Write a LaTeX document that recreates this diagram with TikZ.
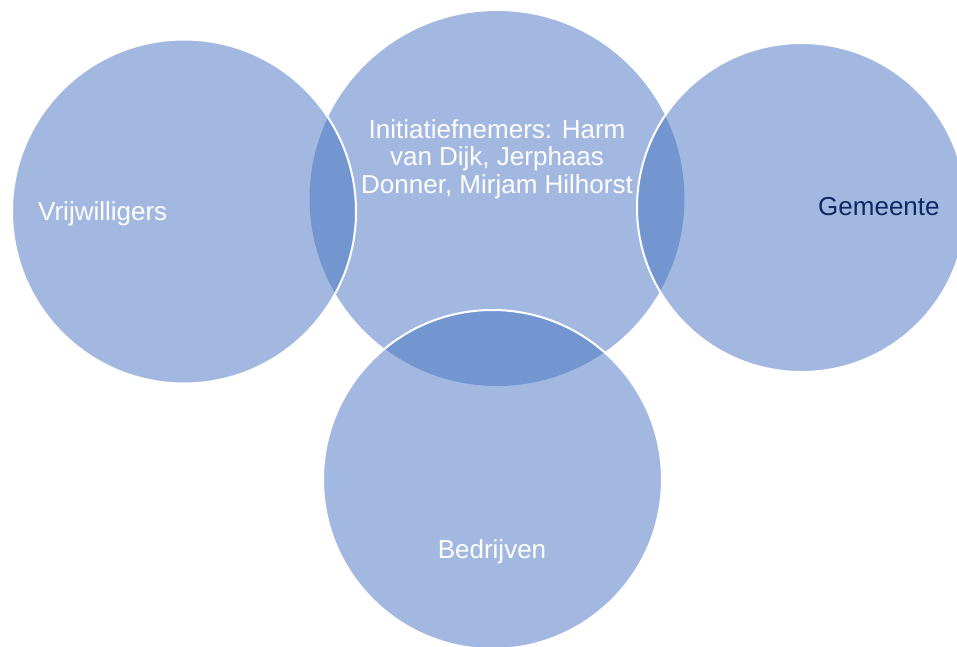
\documentclass[tikz,border=0pt]{standalone}
\usepackage{fontspec}
\setmainfont{Liberation Sans}
\definecolor{vennfill}{RGB}{69,114,193}
\definecolor{navytext}{RGB}{14,40,100}
\tikzset{
  venn/.style={circle, inner sep=0pt, fill=vennfill, fill opacity=0.5, draw opacity=1},
  vennedge/.style={venn, draw=white, line width=2pt},
  lbl/.style={inner sep=0pt, font=\fontsize{26}{27.5}\selectfont, text=white}
}
\begin{document}
\begin{tikzpicture}[x=1pt, y=-1pt]
\useasboundingbox (0,0) rectangle (957,646);
\clip (0,0) rectangle (957,646);
\node[venn, minimum size=375pt] (init) at (497,198.5) {};
\node[vennedge, minimum size=344pt] (vrij) at (184,211.5) {};
\node[vennedge, minimum size=329pt] (gem) at (801.5,207.5) {};
\node[vennedge, minimum size=339pt] (bedr) at (492.5,479.5) {};
\node[lbl, anchor=base west] (tvrij) at (38,220.5) {Vrijwilligers};
\node[lbl, anchor=base west, text=navytext] (tgem) at (818,215) {Gemeente};
\node[lbl, anchor=base] (tbedr) at (492,558) {Bedrijven};
\node[lbl, anchor=base, align=center] (tinit) at (497,193) {Initiatiefnemers: Harm\\van Dijk, Jerphaas\\Donner, Mirjam Hilhorst};
\end{tikzpicture}
\end{document}
